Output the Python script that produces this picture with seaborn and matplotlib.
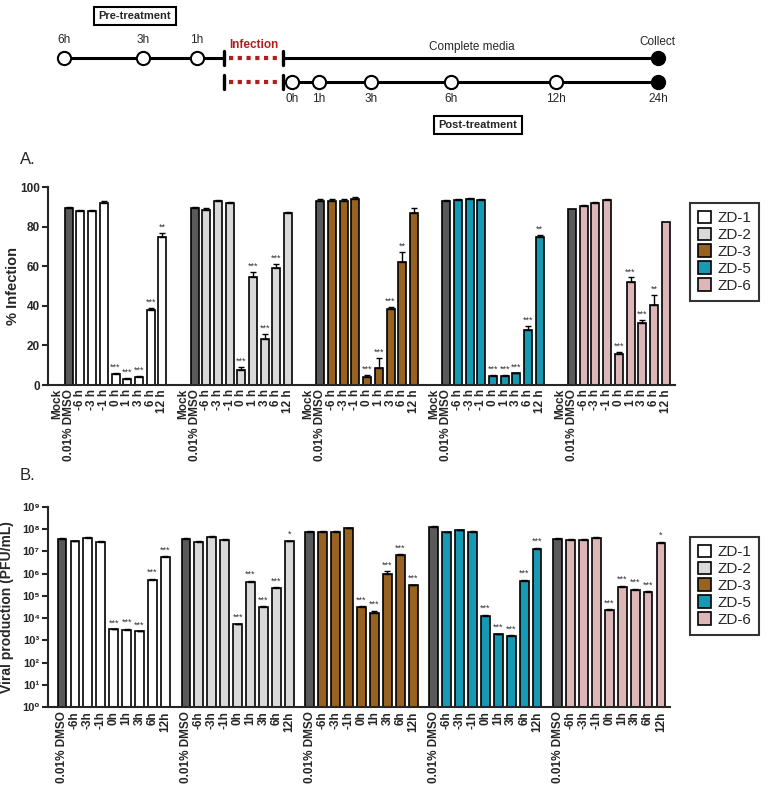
import numpy as np
import pandas as pd
import matplotlib
matplotlib.use('Agg')
import matplotlib.pyplot as plt
import seaborn as sns
from matplotlib.patches import Patch

compounds = ['ZD-1', 'ZD-2', 'ZD-3', 'ZD-5', 'ZD-6']
colors = {'DMSO': '#5a5a5a', 'ZD-1': '#ffffff', 'ZD-2': '#d9d9d9',
          'ZD-3': '#986320', 'ZD-5': '#1699b2', 'ZD-6': '#ddb7b7'}

# panel A: % infection
a_labels = ['Mock', '0.01% DMSO', '-6 h', '-3 h', '-1 h', '0 h', '1 h', '3 h', '6 h', '12 h']
inf_vals = [
    [0, 89.5, 88, 88, 92, 5.5, 2.9, 3.9, 37.7, 75],
    [0, 89.5, 88.5, 93, 92, 7.5, 54.5, 23, 59, 87],
    [0, 93, 93, 93, 94, 3.9, 8.7, 38.3, 62, 87],
    [0, 93, 93.5, 94, 93.5, 4.7, 4.7, 5.9, 27.6, 75],
    [0, 89.1, 90.5, 91.8, 93.3, 15.6, 51.9, 31.3, 40.2, 82.4],
]
inf_err = [
    [0, 0.4, 0.3, 0.3, 1.0, 0.5, 0.6, 0.6, 1.0, 2.0],
    [0, 0.4, 0.8, 0.3, 0.5, 1.5, 2.5, 3.0, 2.2, 0.5],
    [0, 0.8, 1.0, 1.0, 0.8, 1.3, 5.0, 1.0, 5.2, 2.5],
    [0, 0.3, 0.3, 0.4, 0.3, 0.3, 0.3, 0.3, 2.0, 1.0],
    [0, 0.0, 0.5, 0.6, 0.4, 1.0, 2.4, 1.5, 5.4, 0.0],
]
inf_sig = [
    ['', '', '', '', '', '***', '***', '***', '***', '**'],
    ['', '', '', '', '', '***', '***', '***', '***', ''],
    ['', '', '', '', '', '***', '***', '***', '**', ''],
    ['', '', '', '', '', '***', '***', '***', '***', '**'],
    ['', '', '', '', '', '***', '***', '***', '**', ''],
]

# panel B: viral production
b_labels = ['0.01% DMSO', '-6h', '-3h', '-1h', '0h', '1h', '3h', '6h', '12h']
pfu_vals = [
    [3.8e7, 2.9e7, 4.2e7, 2.8e7, 3.1e3, 3.0e3, 2.5e3, 5.4e5, 5.7e6],
    [3.8e7, 2.7e7, 4.7e7, 3.3e7, 5.2e3, 4.3e5, 3.2e4, 2.2e5, 2.9e7],
    [7.4e7, 7.6e7, 7.4e7, 1.1e8, 3.2e4, 1.7e4, 1.0e6, 6.7e6, 3.0e5],
    [1.3e8, 7.3e7, 8.8e7, 7.6e7, 1.3e4, 1.9e3, 1.5e3, 4.9e5, 1.35e7],
    [3.8e7, 3.3e7, 3.3e7, 4.0e7, 2.3e4, 2.4e5, 1.9e5, 1.5e5, 2.4e7],
]
pfu_err = [
    [2e6, 2e6, 3e6, 1e6, 1e2, 3e2, 1e2, 4e4, 4e5],
    [2e6, 4e6, 3e6, 2e6, 3e2, 4e4, 3e3, 2e4, 2e6],
    [6e6, 6e6, 8e6, 6e6, 2e3, 5e3, 3e5, 6e5, 2e4],
    [5e6, 5e6, 6e6, 4e6, 1e3, 1e2, 2e2, 4e4, 1e6],
    [2e6, 2e6, 2e6, 3e6, 2e3, 5e4, 2e4, 1e4, 3e6],
]
pfu_sig = [
    ['', '', '', '', '***', '***', '***', '***', '***'],
    ['', '', '', '', '***', '***', '***', '***', '*'],
    ['', '', '', '', '***', '***', '***', '***', '***'],
    ['', '', '', '', '***', '***', '***', '***', '***'],
    ['', '', '', '', '***', '***', '***', '***', '*'],
]
log_ticks = [1, 1e1, 1e2, 1e3, 1e4, 1e5, 1e6, 1e7, 1e8, 1e9]
log_ticklabels = ['10⁰', '10¹', '10²', '10³', '10⁴', '10⁵', '10⁶', '10⁷', '10⁸', '10⁹']

# timeline schematic
pre_labels = ['6h', '3h', '1h']
post_labels = ['0h', '1h', '3h', '6h', '12h', '24h']

sns.set_style('ticks')
plt.rcParams['font.family'] = ['Liberation Sans', 'DejaVu Sans']
plt.rcParams['axes.linewidth'] = 1.5


def make_df(vals, errs, sigs, labels, step, n_ctrl):
    rows = []
    for g, name in enumerate(compounds):
        for i, lab in enumerate(labels):
            rows.append({'pos': g * step + i, 'value': vals[g][i], 'err': errs[g][i],
                         'sig': sigs[g][i], 'label': lab,
                         'key': 'DMSO' if i < n_ctrl else name})
    return pd.DataFrame(rows)


def draw_bars(ax, df, log=False):
    sns.barplot(data=df, x='pos', y='value', hue='key', palette=colors, native_scale=True,
                dodge=False, width=0.68, saturation=1, edgecolor='black', linewidth=1.2,
                errorbar=None, legend=False, ax=ax)
    e = df[df.err > 0]
    ax.errorbar(e.pos, e.value, yerr=[np.zeros(len(e)), e.err], fmt='none', ecolor='black',
                elinewidth=1, capsize=2.2, capthick=1)
    for _, r in df[df.sig != ''].iterrows():
        top = r.value + r.err
        y = top * 1.2 if log else top + 0.6
        ax.text(r.pos, y, r.sig, ha='center', va='bottom', fontsize=6.5, color='#333333')
    ax.set_xticks(df.pos, df.label, rotation=90, fontweight='bold', fontsize=8.5)
    ax.tick_params(axis='x', length=0, pad=3)
    ax.tick_params(axis='y', length=4, width=1.5, pad=2)
    ax.set_xlabel('')
    sns.despine(ax=ax)


fig = plt.figure(figsize=(7.68, 7.89), dpi=100)
W, H = 768, 789

# --- timeline ---
axt = fig.add_axes([0, 1 - 150 / H, 1, 150 / H])
axt.set_xlim(0, W)
axt.set_ylim(150, 0)
axt.axis('off')
pre_x = [64, 143, 197]
post_x = [292, 319, 371, 451, 556, 658]
red = '#b01e1e'
for y in (58, 82):
    axt.plot([224, 224], [y - 7, y + 7], color='black', lw=2.4)
    axt.plot([283, 283], [y - 7, y + 7], color='black', lw=2.4)
    axt.plot([229, 279], [y, y], color=red, lw=3, ls=(0, (1, 1.1)))
    axt.plot([283, 658], [y, y], color='black', lw=2.2, zorder=1)
axt.plot([64, 224], [58, 58], color='black', lw=2.2, zorder=1)
axt.plot(pre_x, [58] * 3, 'o', ms=9.5, mfc='white', mec='black', mew=1.5)
axt.plot(post_x[:-1], [82] * 5, 'o', ms=9.5, mfc='white', mec='black', mew=1.5)
axt.plot([658, 658], [58, 82], 'o', ms=9.5, mfc='black', mec='black', mew=1.5)
for x, t in zip(pre_x, pre_labels):
    axt.text(x, 40, t, ha='center', va='center', fontsize=8.5)
for x, t in zip(post_x, post_labels):
    axt.text(x, 99, t, ha='center', va='center', fontsize=8.5)
axt.text(254, 45, 'Infection', ha='center', va='center', fontsize=8.5, color=red, fontweight='bold')
axt.text(472, 47, 'Complete media', ha='center', va='center', fontsize=8.5)
axt.text(657, 42, 'Collect', ha='center', va='center', fontsize=8.5)
box = dict(boxstyle='square,pad=0.4', fc='white', ec='black', lw=1.5)
axt.text(135, 16, 'Pre-treatment', ha='center', va='center', fontsize=8, fontweight='bold', bbox=box)
axt.text(478, 125, 'Post-treatment', ha='center', va='center', fontsize=8, fontweight='bold', bbox=box)

# --- panel A ---
axA = fig.add_axes([48 / W, 1 - 385 / H, 627 / W, 198 / H])
dfA = make_df(inf_vals, inf_err, inf_sig, a_labels, 10.75, 2)
draw_bars(axA, dfA)
axA.set_xlim(-0.77, 52.8)
axA.set_ylim(0, 100)
axA.set_yticks([0, 20, 40, 60, 80, 100])
axA.set_yticklabels(['0', '20', '40', '60', '80', '100'], fontweight='bold', fontsize=8.5)
axA.set_ylabel('% Infection', fontweight='bold', fontsize=10.5)
axA.yaxis.set_label_coords(-0.045, 0.5)

# --- panel B ---
axB = fig.add_axes([48 / W, 1 - 707 / H, 622 / W, 200 / H])
axB.set_yscale('log')
dfB = make_df(pfu_vals, pfu_err, pfu_sig, b_labels, 9.6, 1)
draw_bars(axB, dfB, log=True)
axB.set_yscale('log')
axB.set_xlim(-1.09, 47.1)
axB.set_ylim(1, 1e9)
axB.set_yticks(log_ticks)
axB.set_yticklabels(log_ticklabels, fontweight='bold', fontsize=8)
axB.minorticks_off()
axB.set_ylabel('Viral production (PFU/mL)', fontweight='bold', fontsize=10)
axB.yaxis.set_label_coords(-0.054, 0.5)

fig.text(20 / W, 1 - 160 / H, 'A.', fontsize=12, va='center')
fig.text(20 / W, 1 - 475 / H, 'B.', fontsize=12, va='center')

handles = [Patch(facecolor=colors[c], edgecolor='black', linewidth=1.2, label=c) for c in compounds]
for top in (203, 537):
    leg = fig.legend(handles=handles, loc='upper left', bbox_to_anchor=(690 / W, 1 - top / H),
                     frameon=True, fancybox=False, edgecolor='black', fontsize=11,
                     handlelength=0.9, handleheight=0.9, borderpad=0.5, labelspacing=0.15,
                     handletextpad=0.4, borderaxespad=0)
    leg.get_frame().set_linewidth(1.5)

fig.savefig('out.png', dpi=100)
